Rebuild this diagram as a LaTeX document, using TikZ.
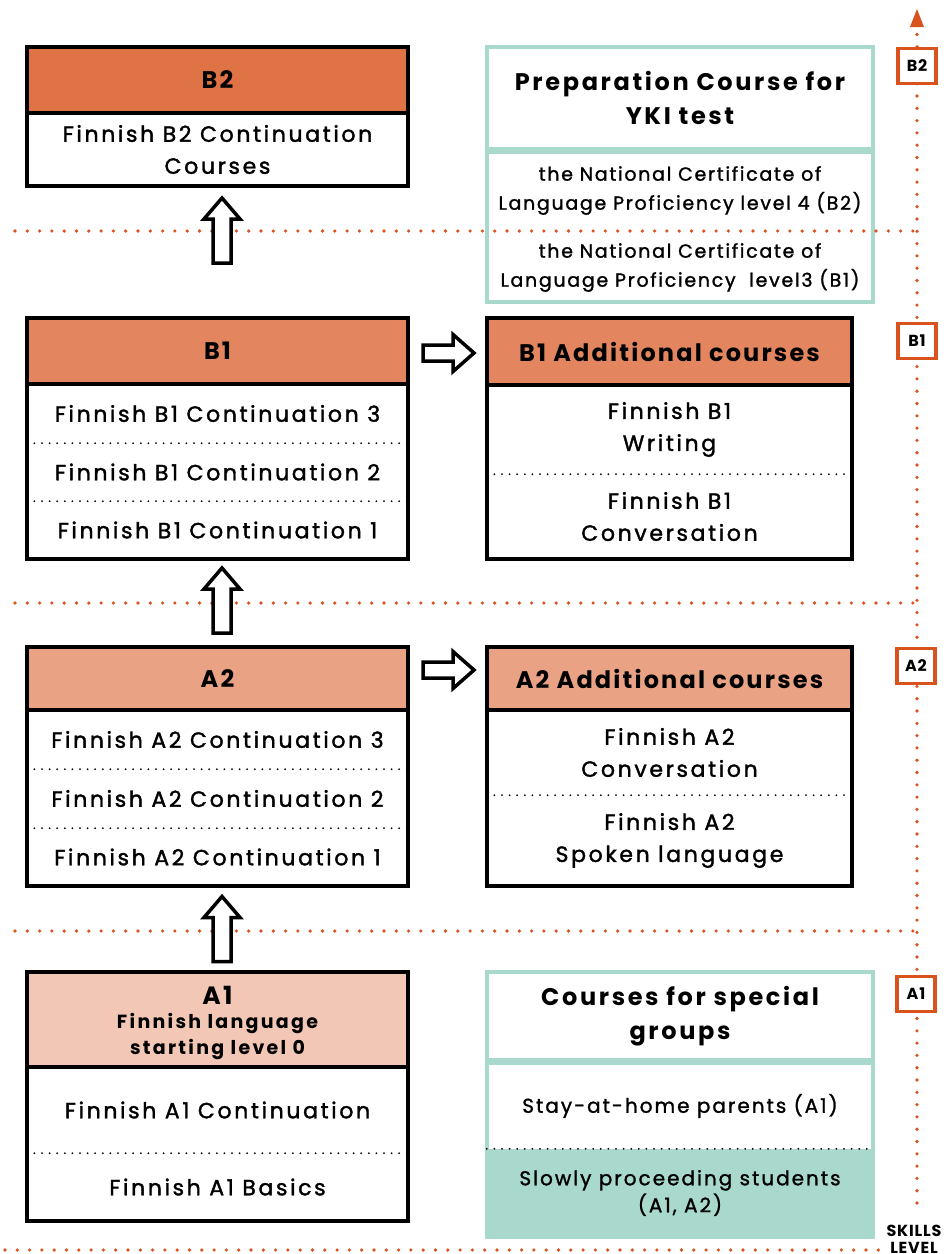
\documentclass[tikz,border=0pt]{standalone}
\usepackage{fontspec}
\setmainfont{Poppins}[LetterSpace=10]
\newfontfamily\bodyf{Poppins}[LetterSpace=12, FakeBold=1.6]
\newfontfamily\hdrf{Poppins}[LetterSpace=9]
\newfontfamily\titf{Poppins}[LetterSpace=11]
\newfontfamily\certf{Poppins}[LetterSpace=9, FakeBold=1.3]
\newfontfamily\specf{Poppins}[LetterSpace=10, FakeBold=1.3]
\newfontfamily\aonef{Poppins}[LetterSpace=12]
\newfontfamily\lblf{Poppins}[LetterSpace=5]
\usetikzlibrary{calc}
\definecolor{cBtwo}{HTML}{E07345}
\definecolor{cBone}{HTML}{E3865F}
\definecolor{cAtwo}{HTML}{E9A283}
\definecolor{cAone}{HTML}{F2C7B5}
\definecolor{tealc}{HTML}{A9D9CD}
\definecolor{axisc}{HTML}{D9531E}
\tikzset{
  cell/.style={rectangle, inner sep=0pt, align=center, anchor=center},
  lcell/.style={cell, minimum width=381},
  rcell/.style={cell, minimum width=365},
  tcell/.style={cell, minimum width=386},
  hdrtxt/.style={font=\hdrf\bfseries\fontsize{24}{32}\selectfont},
  bodytxt/.style={font=\bodyf\fontsize{22}{32}\selectfont},
  certtxt/.style={font=\certf\fontsize{19}{29}\selectfont},
  spectxt/.style={font=\specf\fontsize{20}{27}\selectfont},
  ttitle/.style={font=\titf\bfseries\fontsize{24}{34}\selectfont},
  frame/.style={line width=3.5pt, draw=black},
  tframe/.style={line width=3.5pt, draw=tealc},
  sepline/.style={line width=2pt, black, dash pattern=on 0pt off 7.6pt, line cap=round},
  odots/.style={line width=3.6pt, axisc, dash pattern=on 0pt off 12.3pt, line cap=round},
  lvl/.style={rectangle, draw=axisc, line width=3.5pt, fill=white, minimum width=38, minimum height=35, inner sep=0pt, font=\lblf\bfseries\fontsize{16}{18}\selectfont},
  blk/.style={line width=3.5pt, draw=black, fill=white, line join=miter},
  uparr/.pic={\draw[blk] (-9,32.5)--(-9,-11.5)--(-18,-11.5)--(0,-32.5)--(18,-11.5)--(9,-11.5)--(9,32.5)--cycle;},
  rtarr/.pic={\draw[blk] (-25.5,-8)--(4.5,-8)--(4.5,-18.5)--(25.5,0)--(4.5,18.5)--(4.5,8)--(-25.5,8)--cycle;}
}
\begin{document}
\begin{tikzpicture}[x=1pt,y=-1pt]
\useasboundingbox (0,0) rectangle (946,1254);
\fill[white] (0,0) rectangle (946,1254);

% ---------- B2 box
\node[lcell, hdrtxt, fill=cBtwo, minimum height=66] (b2h) at (217.5,80) {B2};
\node[lcell, bodytxt, minimum height=73] (b2r) at (217.5,149.5) {Finnish B2 Continuation\\Courses};
\draw[frame] (b2h.north west) rectangle (b2r.south east);
\draw[frame] (b2h.south west) -- (b2h.south east);

% ---------- B1 box
\node[lcell, hdrtxt, fill=cBone, minimum height=66] (b1h) at (217.5,351) {B1};
\node[lcell, bodytxt, minimum height=59] (b1a) at (217.5,413.5) {Finnish B1 Continuation 3};
\node[lcell, bodytxt, minimum height=58] (b1b) at (217.5,472) {Finnish B1 Continuation 2};
\node[lcell, bodytxt, minimum height=58] (b1c) at (217.5,530) {Finnish B1 Continuation 1};
\draw[frame] (b1h.north west) rectangle (b1c.south east);
\draw[frame] (b1h.south west) -- (b1h.south east);
\draw[sepline] (b1a.south west) -- (b1a.south east);
\draw[sepline] (b1b.south west) -- (b1b.south east);

% ---------- A2 box
\node[lcell, hdrtxt, fill=cAtwo, minimum height=63] (a2h) at (217.5,678.5) {A2};
\node[lcell, bodytxt, minimum height=59] (a2a) at (217.5,739.5) {Finnish A2 Continuation 3};
\node[lcell, bodytxt, minimum height=59] (a2b) at (217.5,798.5) {Finnish A2 Continuation 2};
\node[lcell, bodytxt, minimum height=58] (a2c) at (217.5,857) {Finnish A2 Continuation 1};
\draw[frame] (a2h.north west) rectangle (a2c.south east);
\draw[frame] (a2h.south west) -- (a2h.south east);
\draw[sepline] (a2a.south west) -- (a2a.south east);
\draw[sepline] (a2b.south west) -- (a2b.south east);

% ---------- A1 box
\node[lcell, fill=cAone, minimum height=95] (a1h) at (217.5,1019.5) {};
\node[cell, font=\hdrf\bfseries\fontsize{25}{28}\selectfont] (a1t) at (217.5,995) {A1};
\node[cell, font=\aonef\bfseries\fontsize{19}{26}\selectfont] (a1s) at (217.5,1036) {Finnish language\\starting level 0};
\node[lcell, bodytxt, minimum height=86] (a1a) at (217.5,1110) {Finnish A1 Continuation};
\node[lcell, bodytxt, minimum height=68] (a1b) at (217.5,1187) {Finnish A1 Basics};
\draw[frame] (a1h.north west) rectangle (a1b.south east);
\draw[frame] (a1h.south west) -- (a1h.south east);
\draw[sepline] (a1a.south west) -- (a1a.south east);

% ---------- B1 additional
\node[rcell, hdrtxt, fill=cBone, minimum height=67] (b1xh) at (669.5,351.5) {B1 Additional courses};
\node[rcell, bodytxt, minimum height=89] (b1xa) at (669.5,429.5) {Finnish B1\\Writing};
\node[rcell, bodytxt, minimum height=85] (b1xb) at (669.5,516.5) {Finnish B1\\Conversation};
\draw[frame] (b1xh.north west) rectangle (b1xb.south east);
\draw[frame] (b1xh.south west) -- (b1xh.south east);
\draw[sepline] (b1xa.south west) -- (b1xa.south east);

% ---------- A2 additional
\node[rcell, hdrtxt, fill=cAtwo, minimum height=63] (a2xh) at (669.5,678.5) {A2 Additional courses};
\node[rcell, bodytxt, minimum height=85] (a2xa) at (669.5,752.5) {Finnish A2\\Conversation};
\node[rcell, bodytxt, minimum height=91] (a2xb) at (669.5,840.5) {Finnish A2\\Spoken language};
\draw[frame] (a2xh.north west) rectangle (a2xb.south east);
\draw[frame] (a2xh.south west) -- (a2xh.south east);
\draw[sepline] (a2xa.south west) -- (a2xa.south east);

% ---------- Preparation course (teal)
\node[tcell, ttitle, minimum height=102] (prep) at (680,98) {Preparation Course for\\YKI test};
\draw[tframe] (prep.north west) rectangle (prep.south east);
\node[tcell, minimum height=150] (prepb) at (680,227) {};
\draw[tframe] (prepb.north west) rectangle (prepb.south east);
\node[cell, certtxt] (cert4) at (680,190.5) {the National Certificate of\\Language Proficiency level 4 (B2)};
\node[cell, certtxt] (cert3) at (680,267.5) {the National Certificate of\\Language Proficiency\ \ level3 (B1)};

% ---------- Special groups (teal)
\node[tcell, ttitle, minimum height=88] (spec) at (680,1016) {Courses for special\\groups};
\draw[tframe] (spec.north west) rectangle (spec.south east);
\node[tcell, spectxt, minimum height=86] (stay) at (680,1106) {Stay-at-home parents (A1)};
\node[tcell, spectxt, fill=tealc, minimum height=88] (slow) at (680,1193) {Slowly proceeding students\\(A1, A2)};
\draw[tframe] (stay.north west) rectangle (slow.south east);
\draw[sepline] (slow.north west) -- (slow.north east);

% ---------- orange level separators
\draw[odots] (15,231) -- (913,231);
\draw[odots] (15,603) -- (913,603);
\draw[odots] (15,931) -- (913,931);
\draw[odots] (5,1250) -- (880,1250);

% ---------- block arrows
\pic (up1) at (222,230.5) {uparr};
\pic (up2) at (222,600.5) {uparr};
\pic (up3) at (222,929) {uparr};
\pic (rt1) at (448.5,353) {rtarr};
\pic (rt2) at (448.5,670) {rtarr};

% ---------- skills level axis
\coordinate (axbot) at (917,1203);
\coordinate (axtop) at (917,33);
\draw[odots] (axbot) -- (axtop);
\fill[axisc] (910,27) -- (924,27) -- (917,9) -- cycle;
\node[lvl] (lB2) at (917,66) {B2};
\node[lvl] (lB1) at (917,341) {B1};
\node[lvl] (lA2) at (916,666) {A2};
\node[lvl] (lA1) at (916,994) {A1};
\node[cell, font=\lblf\bfseries\fontsize{16}{17}\selectfont] (skills) at (914,1239) {SKILLS\\LEVEL};
\end{tikzpicture}
\end{document}
